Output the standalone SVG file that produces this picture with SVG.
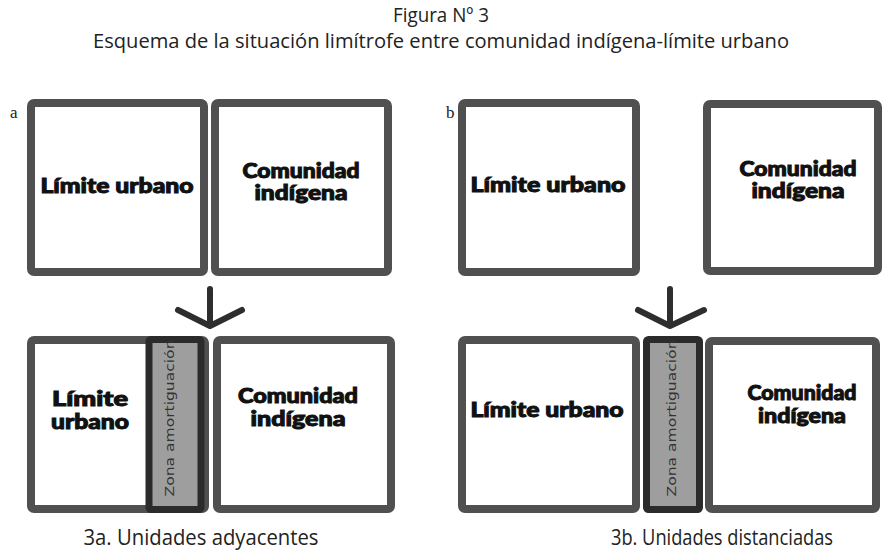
<svg xmlns="http://www.w3.org/2000/svg" width="883" height="554" viewBox="0 0 883 554">
<style>
.box{fill:#fff;stroke:#505050;stroke-width:8;}
.zona{fill:#9e9e9e;stroke:#2b2b2b;stroke-width:7;}
.lbl{font-family:Lato,"DejaVu Sans",sans-serif;font-weight:900;font-size:20px;fill:#111;stroke:#111;stroke-width:1;text-anchor:middle;}
.zt{font-family:"DejaVu Sans",sans-serif;font-size:12px;fill:#333;text-anchor:middle;}
.cap{font-family:"Open Sans","Liberation Sans",sans-serif;fill:#222;text-anchor:middle;}
.let{font-family:"Liberation Serif",serif;font-size:17px;fill:#222;}
.arr{fill:none;stroke:#2e2e2e;stroke-width:6;stroke-linecap:round;stroke-linejoin:round;}
</style>
<rect width="883" height="554" fill="#fff"/>
<text class="cap" x="441" y="22" font-size="20" textLength="96" lengthAdjust="spacingAndGlyphs">Figura Nº 3</text>
<text class="cap" x="441" y="48" font-size="20" textLength="696" lengthAdjust="spacingAndGlyphs">Esquema de la situación limítrofe entre comunidad indígena-límite urbano</text>
<text class="let" x="10" y="118">a</text>
<text class="let" x="446" y="118">b</text>
<g id="a-top-limite">
<rect class="box" x="31" y="103" width="173" height="169" rx="3"/>
<text class="lbl" x="117" y="193" textLength="153" lengthAdjust="spacingAndGlyphs">Límite urbano</text>
</g>
<g id="a-top-comunidad">
<rect class="box" x="215" y="103" width="173" height="169" rx="3"/>
<text class="lbl" x="301" y="178" textLength="117" lengthAdjust="spacingAndGlyphs">Comunidad</text>
<text class="lbl" x="301" y="200" textLength="93" lengthAdjust="spacingAndGlyphs">indígena</text>
</g>
<g id="b-top-limite">
<rect class="box" x="462" y="103" width="174" height="169" rx="3"/>
<text class="lbl" x="548" y="192" textLength="155" lengthAdjust="spacingAndGlyphs">Límite urbano</text>
</g>
<g id="b-top-comunidad">
<rect class="box" x="707" y="104" width="171" height="167" rx="3"/>
<text class="lbl" x="798" y="176" textLength="117" lengthAdjust="spacingAndGlyphs">Comunidad</text>
<text class="lbl" x="798" y="198" textLength="93" lengthAdjust="spacingAndGlyphs">indígena</text>
</g>
<g id="a-bot-limite">
<rect class="box" x="31" y="340" width="174" height="169" rx="3"/>
<text class="lbl" x="90" y="406" textLength="76" lengthAdjust="spacingAndGlyphs">Límite</text>
<text class="lbl" x="90" y="429" textLength="78" lengthAdjust="spacingAndGlyphs">urbano</text>
</g>
<g id="a-bot-zona">
<rect class="zona" x="149" y="339.5" width="52" height="170" rx="2"/>
<text class="zt" transform="translate(174,418) rotate(-90)" textLength="157" lengthAdjust="spacingAndGlyphs">Zona amortiguación</text>
</g>
<g id="a-bot-comunidad">
<rect class="box" x="217" y="340" width="174" height="169" rx="3"/>
<text class="lbl" x="298" y="403" textLength="120" lengthAdjust="spacingAndGlyphs">Comunidad</text>
<text class="lbl" x="298" y="426" textLength="95" lengthAdjust="spacingAndGlyphs">indígena</text>
</g>
<g id="b-bot-limite">
<rect class="box" x="462" y="340" width="174" height="169" rx="3"/>
<text class="lbl" x="547" y="417" textLength="153" lengthAdjust="spacingAndGlyphs">Límite urbano</text>
</g>
<g id="b-bot-zona">
<rect class="zona" x="646.5" y="339.5" width="53" height="170" rx="2"/>
<text class="zt" transform="translate(676,418) rotate(-90)" textLength="157" lengthAdjust="spacingAndGlyphs">Zona amortiguación</text>
</g>
<g id="b-bot-comunidad">
<rect class="box" x="709" y="341" width="167" height="168" rx="3"/>
<text class="lbl" x="802" y="400" textLength="109" lengthAdjust="spacingAndGlyphs">Comunidad</text>
<text class="lbl" x="802" y="423" textLength="88" lengthAdjust="spacingAndGlyphs">indígena</text>
</g>
<g id="connectors">
<path class="arr" d="M210 289 V326 M178 310 L210 326 L242 310"/>
<path class="arr" d="M670 289 V326 M638 310 L670 326 L704 310"/>
</g>
<text class="cap" x="201" y="545" font-size="22" textLength="235" lengthAdjust="spacingAndGlyphs">3a. Unidades adyacentes</text>
<text class="cap" x="722" y="545" font-size="22" textLength="222" lengthAdjust="spacingAndGlyphs">3b. Unidades distanciadas</text>
</svg>
